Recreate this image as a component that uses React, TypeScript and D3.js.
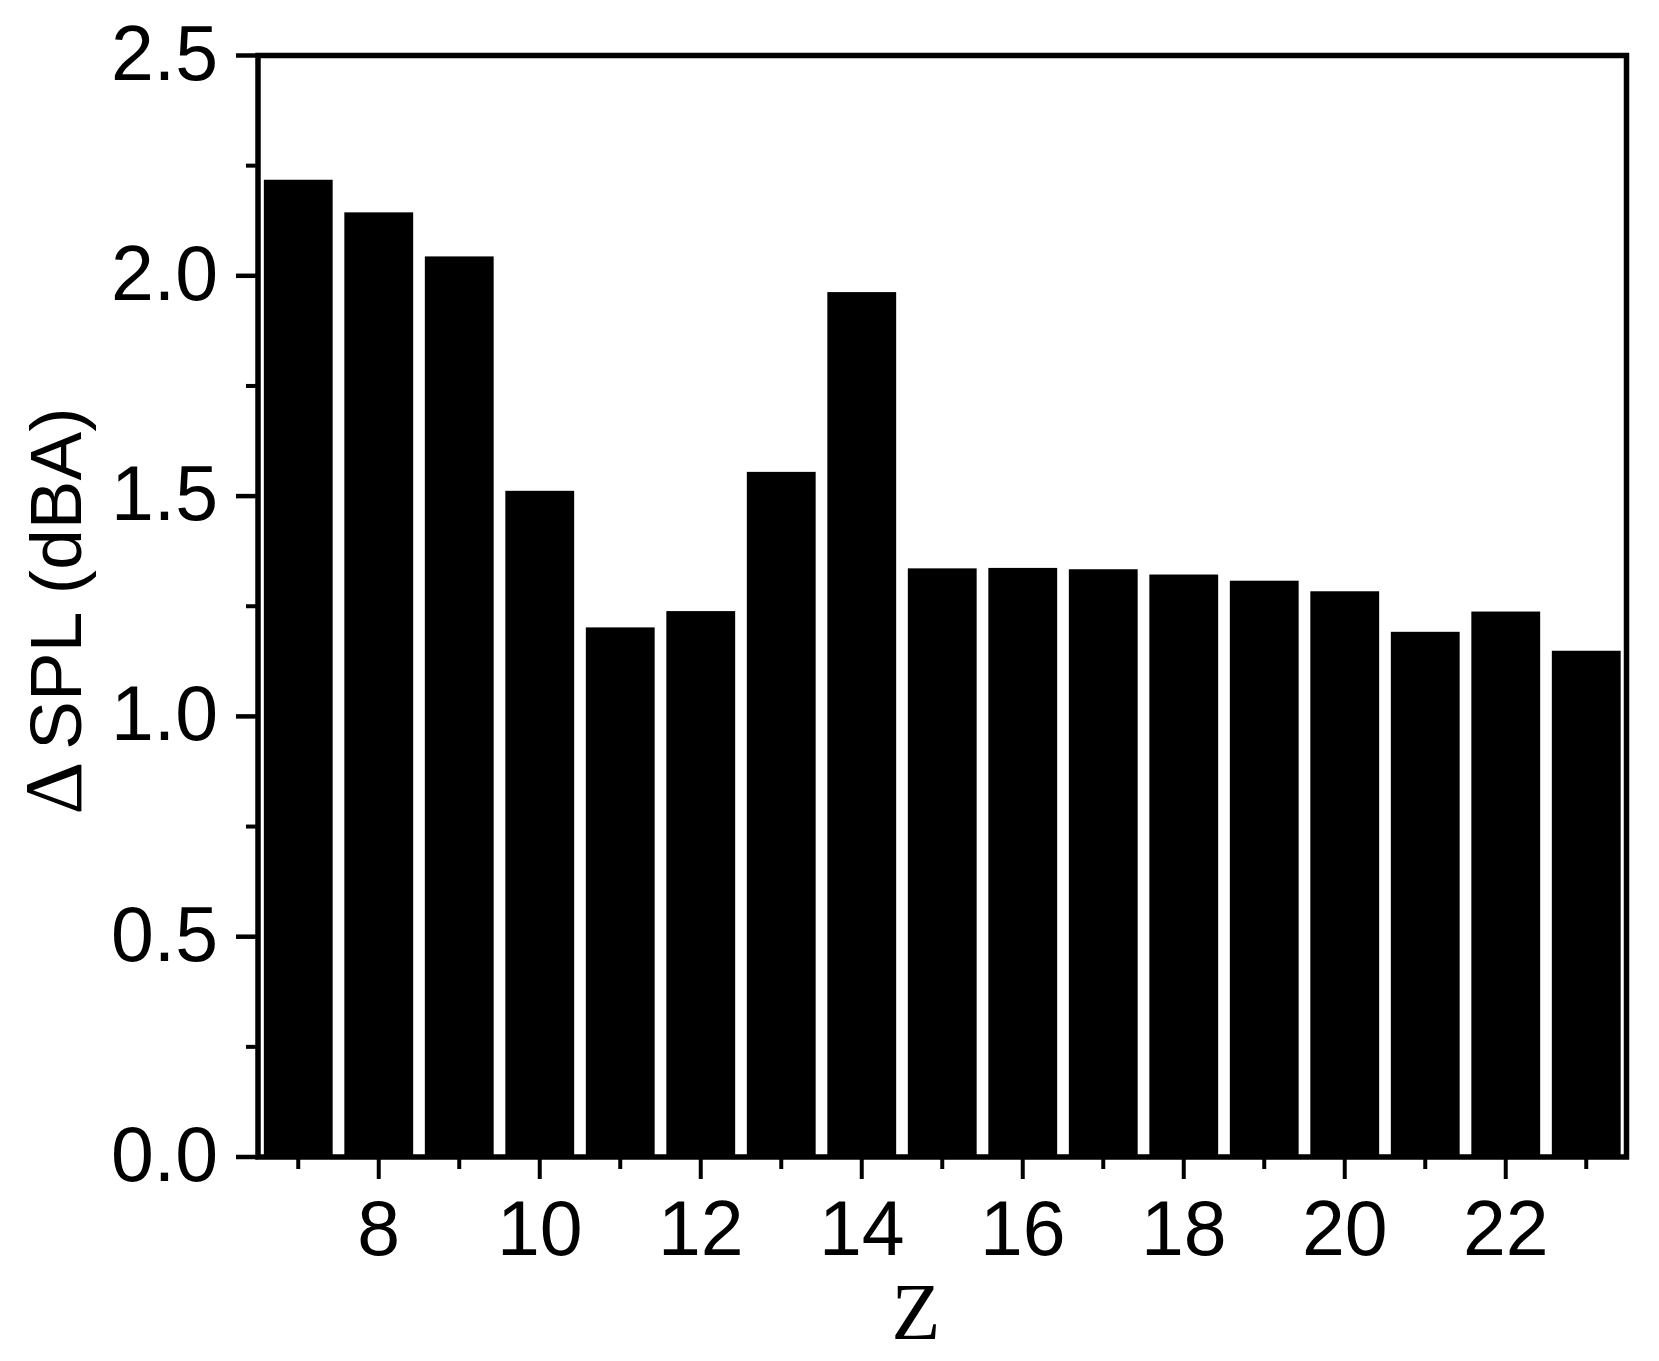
import React from 'react';
import * as d3 from 'd3';

// Z (categories) and ΔSPL values
const zValues = [7, 8, 9, 10, 11, 12, 13, 14, 15, 16, 17, 18, 19, 20, 21, 22, 23];
const splValues = [2.218, 2.144, 2.044, 1.512, 1.202, 1.239, 1.555, 1.963, 1.336, 1.337, 1.334, 1.322, 1.308, 1.284, 1.192, 1.238, 1.149];
const xMajorTicks = [8, 10, 12, 14, 16, 18, 20, 22];
const xMinorTicks = [7, 9, 11, 13, 15, 17, 19, 21, 23];
const yMajorTicks = [0, 0.5, 1.0, 1.5, 2.0, 2.5];
const yMinorTicks = [0.25, 0.75, 1.25, 1.75, 2.25];

const W = 1659;
const H = 1361;
const left = 258, right = 1626.5, top = 55.5, bottom = 1157;
const sans = '"Liberation Sans", Arial, sans-serif';
const serif = '"Liberation Serif", "Times New Roman", serif';

const App = () => {
  const x = d3.scaleLinear().domain([6.5, 23.5]).range([left, right]);
  const y = d3.scaleLinear().domain([0, 2.5]).range([bottom, top]);
  const barW = (x(1) - x(0)) * 0.855;

  return (
    <svg width={W} height={H} style={{ position: 'absolute', left: 0, top: 0, background: '#fff' }}>
      <rect width={W} height={H} fill="#fff" />
      {/* bars */}
      {zValues.map((z, i) => (
        <rect key={z} x={x(z) - barW / 2} y={y(splValues[i])} width={barW} height={y(0) - y(splValues[i]) - 2} fill="#000" />
      ))}

      {/* frame */}
      <rect x={left} y={top} width={right - left} height={bottom - top} fill="none" stroke="#000" strokeWidth={5.5} />

      {/* y ticks */}
      {yMajorTicks.map(t => (
        <line key={'ym' + t} x1={left - 22} x2={left} y1={y(t)} y2={y(t)} stroke="#000" strokeWidth={4.5} />
      ))}
      {yMinorTicks.map(t => (
        <line key={'yn' + t} x1={left - 12} x2={left} y1={y(t)} y2={y(t)} stroke="#000" strokeWidth={4} />
      ))}
      {yMajorTicks.map(t => (
        <text key={'yl' + t} x={218} y={y(t) + 24} textAnchor="end" fontFamily={sans} fontSize={77} fill="#000">
          {d3.format('.1f')(t)}
        </text>
      ))}

      {/* x ticks */}
      {xMajorTicks.map(t => (
        <line key={'xm' + t} x1={x(t)} x2={x(t)} y1={bottom} y2={bottom + 22} stroke="#000" strokeWidth={4} />
      ))}
      {xMinorTicks.map(t => (
        <line key={'xn' + t} x1={x(t)} x2={x(t)} y1={bottom} y2={bottom + 12} stroke="#000" strokeWidth={4} />
      ))}
      {xMajorTicks.map(t => (
        <text key={'xl' + t} x={x(t)} y={1255} textAnchor="middle" fontFamily={sans} fontSize={77} fill="#000">
          {t}
        </text>
      ))}

      {/* axis titles */}
      <text x={916} y={1339} textAnchor="middle" fontFamily={serif} fontSize={80} fill="#000">Z</text>
      <text transform={`translate(81, 611) rotate(-90)`} textAnchor="middle" fontFamily={sans} fontSize={73} fill="#000">
        <tspan fontFamily={serif} fontSize={82}>Δ</tspan>
        <tspan dx={12}>SPL (dBA)</tspan>
      </text>
    </svg>
  );
};

export default App;
